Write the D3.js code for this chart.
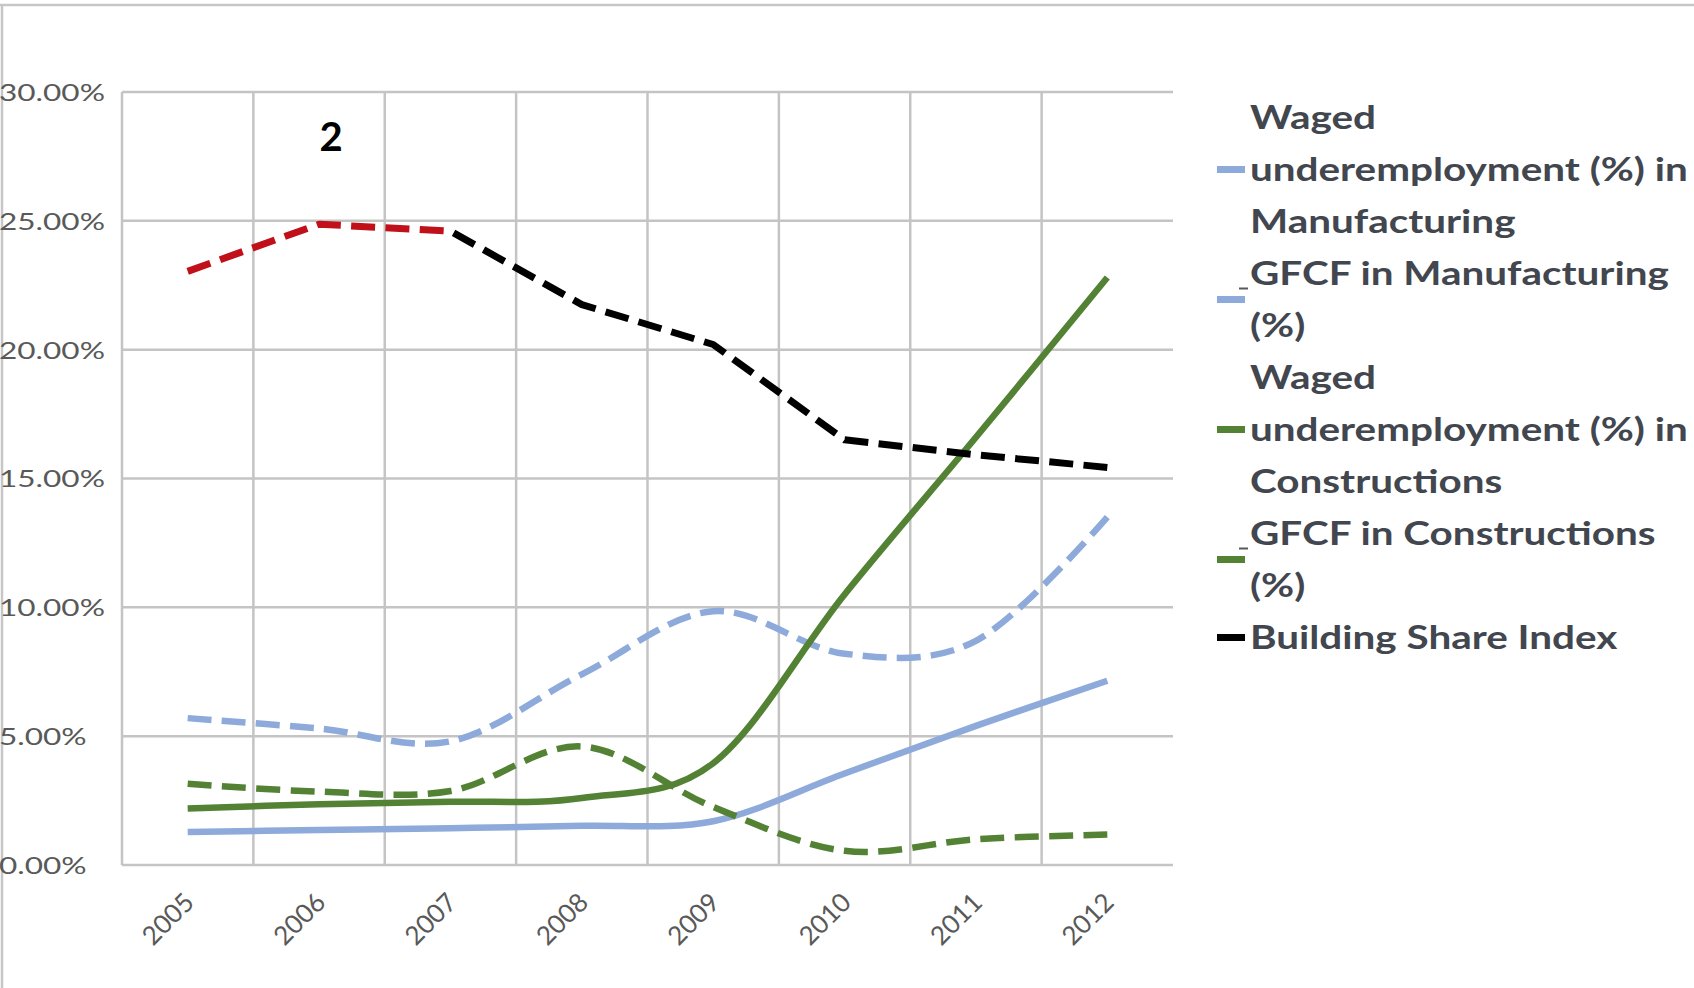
<!DOCTYPE html>
<html>
<head>
<meta charset="utf-8">
<script src="https://cdn.jsdelivr.net/npm/d3@7/dist/d3.min.js"></script>
<style>
html, body { margin: 0; padding: 0; background: #fff; }
svg { display: block; }
</style>
</head>
<body>
<svg id="chart" width="1694" height="988"></svg>
<script>
// values (shares, 0.05 = 5%)
var years = ["2005", "2006", "2007", "2008", "2009", "2010", "2011", "2012"];
var wagedManuf  = [0.0128, 0.0136, 0.0143, 0.0152, 0.0170, 0.0355, 0.0540, 0.0715];
var gfcfManuf   = [0.0570, 0.0530, 0.0480, 0.0740, 0.0985, 0.0820, 0.0870, 0.1350];
var wagedConstr = [0.0219, 0.0236, 0.0245, 0.0260, 0.0395, 0.1050, 0.1660, 0.2280];
var gfcfConstr  = [0.0315, 0.0285, 0.0287, 0.0460, 0.0225, 0.0055, 0.0100, 0.0118];
var buildingShare = [0.2304, 0.2487, 0.2460, 0.2175, 0.2020, 0.1650, 0.1592, 0.1543];
var yTicks = [0, 0.05, 0.10, 0.15, 0.20, 0.25, 0.30];
var legendLines = [
    ["Waged", "underemployment (%) in", "Manufacturing"],
    ["GFCF in Manufacturing", "(%)"],
    ["Waged", "underemployment (%) in", "Constructions"],
    ["GFCF in Constructions", "(%)"],
    ["Building Share Index"]
];
var redYears = ["2005", "2006", "2007"]; // part of the index drawn in red
var annotation = "2";

var W = 1694, H = 988;
var plotLeft = 122, plotRight = 1173, plotTop = 92, plotBottom = 865;
var blue = "#8eaadb", green = "#548235", red = "#c0101a", grid = "#c4c4c4";
var axisFont = "Lato, 'Open Sans', sans-serif";
var dashLen = 24, gapLen = 10;

var smooth = d3.curveCardinal.tension(0);
var series = [
    { values: wagedManuf,  color: blue,  dashed: false, width: 6.5, curve: smooth },
    { values: gfcfManuf,   color: blue,  dashed: true,  width: 6.5, curve: smooth },
    { values: wagedConstr, color: green, dashed: false, width: 6.5, curve: smooth },
    { values: gfcfConstr,  color: green, dashed: true,  width: 6.5, curve: smooth },
    { values: buildingShare, color: "#000", dashed: true, width: 7, curve: d3.curveLinear }
];

var svg = d3.select("#chart");
svg.append("rect").attr("width", W).attr("height", H).attr("fill", "#fff");

// outer frame (only top and left edges show in the picture)
svg.append("line").attr("x1", 0).attr("x2", W).attr("y1", 5).attr("y2", 5)
    .attr("stroke", "#c6c6c6").attr("stroke-width", 2.5);
svg.append("line").attr("x1", 2).attr("x2", 2).attr("y1", 5).attr("y2", H)
    .attr("stroke", "#c6c6c6").attr("stroke-width", 2.5);

var x = d3.scaleBand().domain(years).range([plotLeft, plotRight]).padding(0);
var y = d3.scaleLinear().domain([0, 0.30]).range([plotBottom, plotTop]);
var bw = x.bandwidth();

// grid
var gridG = svg.append("g");
gridG.selectAll("line.h").data(yTicks).enter().append("line")
    .attr("x1", plotLeft).attr("x2", plotRight)
    .attr("y1", function (d) { return y(d); }).attr("y2", function (d) { return y(d); })
    .attr("stroke", grid).attr("stroke-width", 2.5);
gridG.selectAll("line.v").data(years).enter().append("line")
    .attr("x1", function (d) { return x(d); }).attr("x2", function (d) { return x(d); })
    .attr("y1", plotTop).attr("y2", plotBottom)
    .attr("stroke", grid).attr("stroke-width", 2.5);

// y axis labels (left aligned, wide glyphs)
var yAxis = svg.append("g")
    .call(d3.axisLeft(y).tickValues(yTicks).tickFormat(d3.format(".2%")).tickSize(0));
yAxis.select(".domain").remove();
yAxis.attr("font-family", axisFont).attr("font-size", 23.5);
var yTexts = yAxis.selectAll("text")
    .attr("fill", "#595959").attr("text-anchor", "start").attr("x", 0).attr("dy", "0.36em");
var widest = 0;
yTexts.each(function () { widest = Math.max(widest, this.getComputedTextLength()); });
var ySx = 106 / widest;
yTexts.attr("transform", "translate(-1,0) scale(" + ySx + ",1)");

// x axis labels, rotated
var xAxis = svg.append("g").attr("transform", "translate(0," + plotBottom + ")")
    .call(d3.axisBottom(x).tickSize(0));
xAxis.select(".domain").remove();
xAxis.attr("font-family", axisFont).attr("font-size", 26);
xAxis.selectAll("text")
    .attr("fill", "#595959").attr("text-anchor", "end")
    .attr("x", 0).attr("y", 0).attr("dy", 0)
    .attr("transform", "translate(8,39) rotate(-45)");

// lines
function lineFor(curve) {
    return d3.line()
        .x(function (d, i) { return x(years[i]) + bw / 2; })
        .y(function (d) { return y(d); })
        .curve(curve);
}

// stretch the gaps a little so a dashed line starts and ends on a dash
function setDash(path) {
    var L = path.node().getTotalLength();
    var n = Math.max(1, Math.round((L - dashLen) / (dashLen + gapLen)));
    var gap = (L - dashLen) / n - dashLen;
    path.attr("stroke-dasharray", dashLen + "," + gap.toFixed(2));
}

var defs = svg.append("defs");
var splitX = x(redYears[redYears.length - 1]) + bw / 2;
defs.append("clipPath").attr("id", "clipRed").append("rect")
    .attr("x", 0).attr("y", 0).attr("width", splitX).attr("height", H);
defs.append("clipPath").attr("id", "clipBlack").append("rect")
    .attr("x", splitX).attr("y", 0).attr("width", W - splitX).attr("height", H);

var linesG = svg.append("g");
series.forEach(function (s, k) {
    var d = lineFor(s.curve)(s.values);
    if (k === series.length - 1) {
        // building share index: red for the first years, black after
        var pr = linesG.append("path").attr("d", d).attr("fill", "none")
            .attr("stroke", red).attr("stroke-width", s.width)
            .attr("stroke-linejoin", "round").attr("clip-path", "url(#clipRed)");
        var pb = linesG.append("path").attr("d", d).attr("fill", "none")
            .attr("stroke", s.color).attr("stroke-width", s.width)
            .attr("stroke-linejoin", "round").attr("clip-path", "url(#clipBlack)");
        setDash(pr);
        setDash(pb);
    } else {
        var p = linesG.append("path").attr("d", d).attr("fill", "none")
            .attr("stroke", s.color).attr("stroke-width", s.width);
        if (s.dashed) setDash(p);
    }
});

// annotation
svg.append("text").attr("x", 331).attr("y", 151).attr("text-anchor", "middle")
    .attr("font-family", axisFont).attr("font-weight", "bold").attr("font-size", 40)
    .attr("fill", "#000").text(annotation);

// legend
var lineY0 = 117.5, lineStep = 52, legX = 1250;
var legText = svg.append("g").attr("font-family", axisFont).attr("font-weight", "bold")
    .attr("font-size", 33).attr("fill", "#42464e");
var row = 0, maxLen = 0;
legendLines.forEach(function (lines, k) {
    var first = row;
    lines.forEach(function (t) {
        var node = legText.append("text").attr("x", 0).attr("y", lineY0 + row * lineStep)
            .attr("dy", "0.36em").text(t);
        maxLen = Math.max(maxLen, node.node().getComputedTextLength());
        row++;
    });
    var symY = lineY0 + (first + (lines.length - 1) / 2) * lineStep;
    svg.append("line").attr("x1", 1217).attr("x2", 1245).attr("y1", symY).attr("y2", symY)
        .attr("stroke", series[k].color).attr("stroke-width", 7);
    if (lines.length === 2) {
        // small underscore mark left of the first line
        svg.append("line").attr("x1", 1239).attr("x2", 1248)
            .attr("y1", lineY0 + first * lineStep + 15).attr("y2", lineY0 + first * lineStep + 15)
            .attr("stroke", "#595959").attr("stroke-width", 2);
    }
});
legText.attr("transform", "translate(" + legX + ",0) scale(" + (438 / maxLen) + ",1)");
</script>
</body>
</html>
